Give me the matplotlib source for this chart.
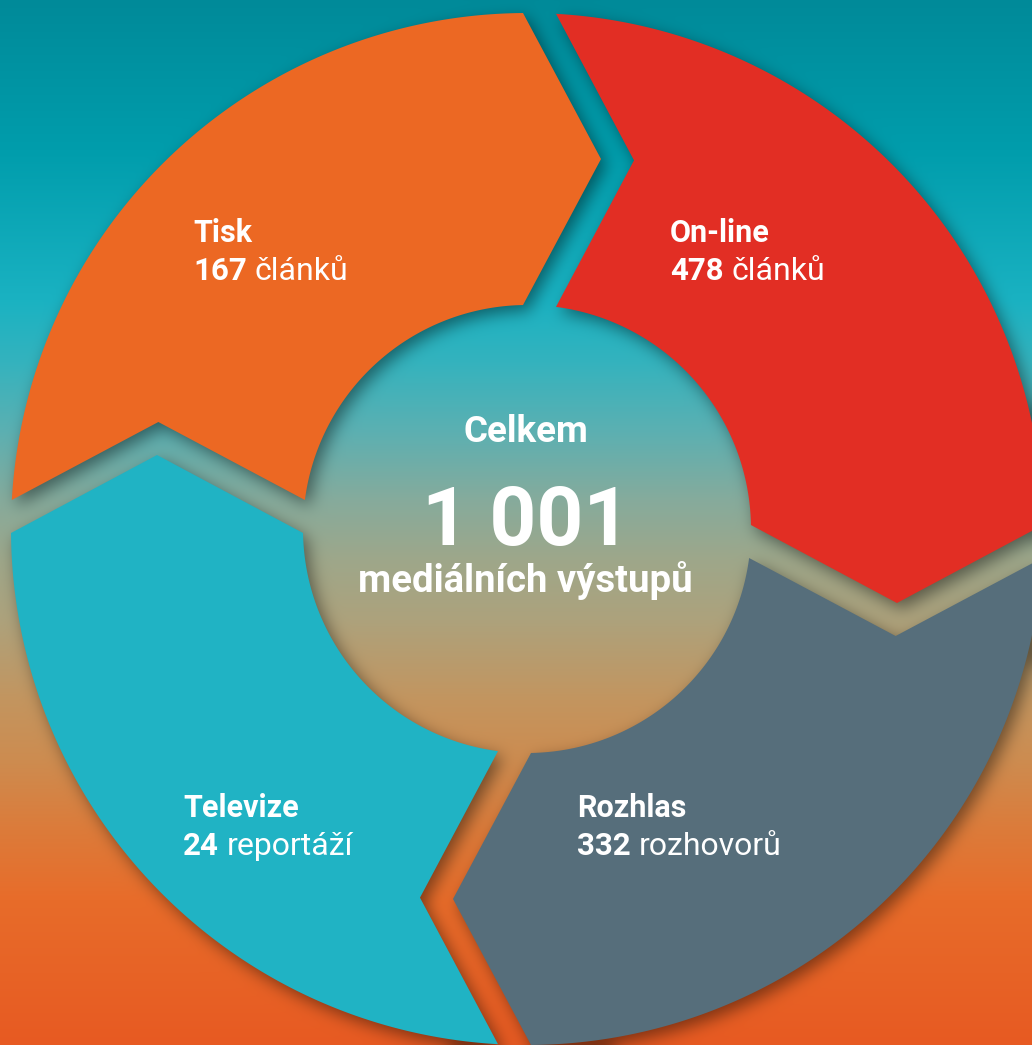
import numpy as np
import matplotlib
matplotlib.use("Agg")
import matplotlib.pyplot as plt
from matplotlib.path import Path
from matplotlib.patches import Polygon

# ---------------- data ----------------
categories = ["Tisk", "On-line", "Rozhlas", "Televize"]
values = [167, 478, 332, 24]
units = ["článků", "článků", "rozhovorů", "reportáží"]
total_title = "Celkem"
total_unit = "mediálních výstupů"

# ---------------- style / layout ----------------
seg_colors = ["#EC6823", "#E22E24", "#566E7B", "#20B3C4"]
label_anchor = [(193, 242), (670, 242), (577, 817), (183, 817)]  # left x, baseline of first line
line_gap = 38

W, H = 1032, 1045
CX, CY = 527, 529
R_OUT, R_IN = 516, 224
S_OFF, E_OFF, DEPTH = 29, -4, 78

grad_stops = [
    (0, "#008A99"), (150, "#009DAC"), (300, "#1AB2C2"), (360, "#33B3BE"),
    (430, "#5BB0B2"), (500, "#86AB9C"), (560, "#9EA78A"), (620, "#ADA27C"),
    (700, "#C3955F"), (760, "#CD8C50"), (830, "#DC7B3A"), (900, "#E86C2A"),
    (1045, "#E75A22"),
]

FONT = "Roboto"


def segment_vertices(k):
    xs_o = -np.sqrt(R_OUT**2 - S_OFF**2)
    xs_i = -np.sqrt(R_IN**2 - S_OFF**2)
    ye_o = np.sqrt(R_OUT**2 - E_OFF**2)
    ye_i = np.sqrt(R_IN**2 - E_OFF**2)
    outer = np.linspace(np.arctan2(S_OFF, xs_o), np.arctan2(ye_o, E_OFF), 240)
    inner = np.linspace(np.arctan2(ye_i, E_OFF), np.arctan2(S_OFF, xs_i), 140)
    pts = [(R_OUT * np.cos(t), R_OUT * np.sin(t)) for t in outer]
    pts.append((E_OFF + DEPTH, (ye_o + ye_i) / 2))
    pts += [(R_IN * np.cos(t), R_IN * np.sin(t)) for t in inner]
    pts.append(((xs_o + xs_i) / 2, S_OFF + DEPTH))
    pts = np.array(pts)
    ang = -np.pi / 2 * k
    c, s = np.cos(ang), np.sin(ang)
    x = pts[:, 0] * c - pts[:, 1] * s
    y = pts[:, 0] * s + pts[:, 1] * c
    return np.column_stack([CX + x, CY - y])


def hex2rgb(h):
    h = h.lstrip("#")
    return np.array([int(h[i:i + 2], 16) for i in (0, 2, 4)]) / 255.0


def blur(img, sigma):
    rad = int(3 * sigma)
    xk = np.arange(-rad, rad + 1)
    k = np.exp(-xk**2 / (2 * sigma**2))
    k /= k.sum()
    pad = np.pad(img, rad, mode="edge")
    tmp = np.apply_along_axis(lambda m: np.convolve(m, k, mode="valid"), 1, pad)
    return np.apply_along_axis(lambda m: np.convolve(m, k, mode="valid"), 0, tmp)


# background gradient
ys = np.arange(H) + 0.5
sy = np.array([s[0] for s in grad_stops], float)
sc = np.array([hex2rgb(s[1]) for s in grad_stops])
col = np.column_stack([np.interp(ys, sy, sc[:, i]) for i in range(3)])
bg = np.repeat(col[:, None, :], W, axis=1)

# drop shadow of the ring segments
gx, gy = np.meshgrid(np.arange(W) + 0.5, np.arange(H) + 0.5)
grid = np.column_stack([gx.ravel(), gy.ravel()])
mask = np.zeros(H * W)
SDX, SDY = 5, 6
verts_all = [segment_vertices(k) for k in range(len(categories))]
for v in verts_all:
    mask = np.maximum(mask, Path(v + np.array([SDX, SDY])).contains_points(grid).astype(float))
mask = blur(mask.reshape(H, W), 8)
bg = bg * (1 - 0.45 * mask[..., None])

fig = plt.figure(figsize=(W / 100, H / 100), dpi=100)
ax = fig.add_axes([0, 0, 1, 1])
ax.imshow(bg, extent=(0, W, H, 0), interpolation="bilinear")
ax.set_xlim(0, W)
ax.set_ylim(H, 0)
ax.axis("off")

for k, v in enumerate(verts_all):
    ax.add_patch(Polygon(v, closed=True, facecolor=seg_colors[k], edgecolor="none", zorder=2))

for k, name in enumerate(categories):
    x0, y0 = label_anchor[k]
    ax.text(x0, y0, name, color="white", fontsize=22, fontweight="bold",
            family=FONT, va="baseline", ha="left", zorder=3)
    t = ax.text(x0, y0 + line_gap, str(values[k]), color="white", fontsize=22.5,
                fontweight="bold", family=FONT, va="baseline", ha="left", zorder=3)
    ax.annotate(units[k], xy=(1, 0), xycoords=t, xytext=(8, 0),
                textcoords="offset pixels", color="white", fontsize=23,
                family=FONT, va="bottom", ha="left", zorder=3)

total = sum(values)
total_txt = f"{total:,}".replace(",", " ")
ax.text(526, 442, total_title, color="white", fontsize=26.5, fontweight="bold",
        family=FONT, ha="center", va="baseline", zorder=3)
ax.text(526, 545, total_txt, color="white", fontsize=59, fontweight="bold",
        family=FONT, ha="center", va="baseline", zorder=3)
ax.text(525, 592, total_unit, color="white", fontsize=27.5, fontweight="bold",
        family=FONT, ha="center", va="baseline", zorder=3)

fig.savefig("out.png", dpi=100)
